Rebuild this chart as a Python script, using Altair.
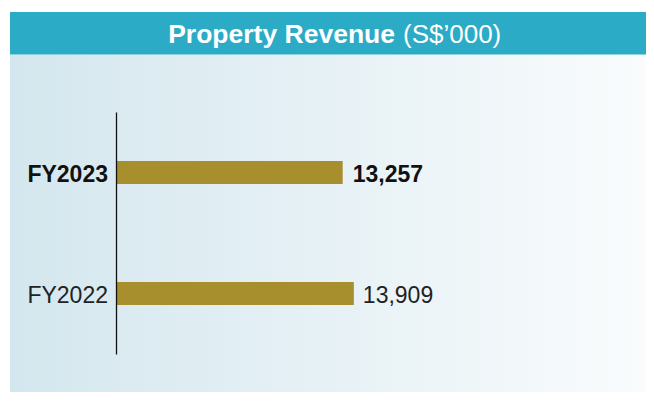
import altair as alt
import pandas as pd

years = ["FY2023", "FY2022"]
revenue = [13257, 13909]
bold_year = "FY2023"
title_bold = "Property Revenue"
title_regular = "(S$\u2019000)"

df = pd.DataFrame({"year": years, "revenue": revenue})
one = pd.DataFrame({"k": [0]})

FONT = "Liberation Sans"
BAR = "#a88f2e"
TEAL = "#2babc5"

y_enc = alt.Y("year:N", sort=years,
              scale=alt.Scale(domain=years, paddingInner=0.81, paddingOuter=0.405),
              axis=alt.Axis(labels=False, ticks=False, title=None, domainColor="#111",
                            domainWidth=1.3, zindex=1, grid=False))
x_enc = alt.X("revenue:Q", scale=alt.Scale(domain=[0, 20000], nice=False, zero=True), axis=None)

bg = alt.Chart(one).mark_rect(
    fill=alt.Gradient(gradient="linear",
                      stops=[alt.GradientStop(color="#d4e7ee", offset=0),
                             alt.GradientStop(color="#fafcfd", offset=1)],
                      x1=0, x2=1, y1=0, y2=0)
).encode(x=alt.value(-106), x2=alt.value(540), y=alt.value(-57.5), y2=alt.value(290))

header = alt.Chart(one).mark_rect(fill=TEAL).encode(
    x=alt.value(-106), x2=alt.value(540), y=alt.value(-100), y2=alt.value(-57.5))

t1 = alt.Chart(pd.DataFrame({"t": [title_bold]})).mark_text(
    font=FONT, fontSize=26.5, fontWeight="bold", color="white", align="right", baseline="alphabetic"
).encode(text="t:N", x=alt.value(279), y=alt.value(-69.5))
t2 = alt.Chart(pd.DataFrame({"t": [title_regular]})).mark_text(
    font=FONT, fontSize=26, fontWeight="normal", color="white", align="left", baseline="alphabetic"
).encode(text="t:N", x=alt.value(287), y=alt.value(-69.5))

base = alt.Chart(df)
bars = base.mark_bar(color=BAR, size=23).encode(x=x_enc, y=y_enc)

is_bold = alt.datum.year == bold_year
not_bold = alt.datum.year != bold_year

lab_b = base.transform_filter(is_bold).mark_text(
    font=FONT, fontSize=23, fontWeight="bold", color="#111", align="right", baseline="alphabetic", dy=9
).encode(text="year:N", y=y_enc, x=alt.value(-8))
lab_n = base.transform_filter(not_bold).mark_text(
    font=FONT, fontSize=23, fontWeight="normal", color="#222", align="right", baseline="alphabetic", dy=9
).encode(text="year:N", y=y_enc, x=alt.value(-8))

val_b = base.transform_filter(is_bold).mark_text(
    font=FONT, fontSize=23, fontWeight="bold", color="#111", align="left", baseline="alphabetic", dx=10, dy=9
).encode(text=alt.Text("revenue:Q", format=","), x=x_enc, y=y_enc)
val_n = base.transform_filter(not_bold).mark_text(
    font=FONT, fontSize=23, fontWeight="normal", color="#222", align="left", baseline="alphabetic", dx=9, dy=9
).encode(text=alt.Text("revenue:Q", format=","), x=x_enc, y=y_enc)

chart = alt.layer(bg, header, t1, t2, bars, lab_b, lab_n, val_b, val_n).properties(
    width=342, height=242,
    autosize=alt.AutoSizeParams(type="none"),
    padding={"left": 108, "top": 104, "right": 188, "bottom": 38},
    background="white",
).configure_view(stroke=None)

chart.save("out.html", embed_options={"renderer": "svg", "actions": False})
